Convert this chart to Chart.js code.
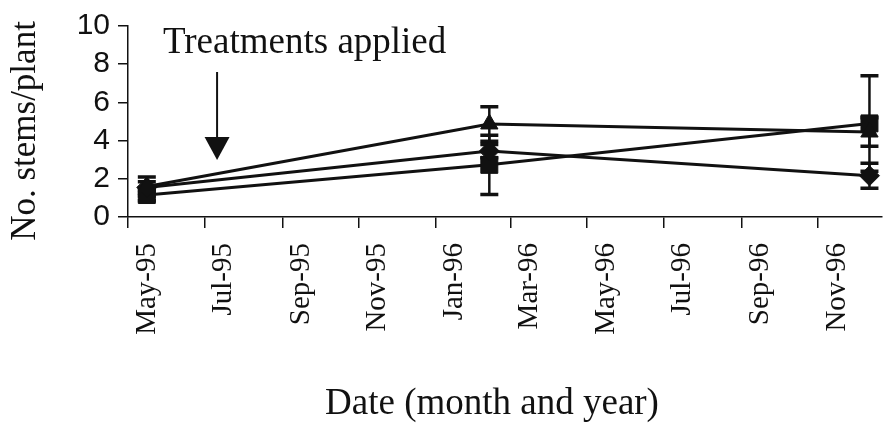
<!DOCTYPE html>
<html>
<head>
<meta charset="utf-8">
<script src="https://cdn.jsdelivr.net/npm/chart.js@4/dist/chart.umd.min.js"></script>
<style>
  html, body { margin: 0; padding: 0; background: #fff; }
  #wrap { width: 895px; height: 426px; position: relative; }
</style>
</head>
<body>
<div id="wrap"><canvas id="stems_chart"></canvas></div>
<script>
// sampling dates and mean stems per plant (+/- error) for each treatment
var sampleDates = ['1995-05-16', '1996-02-13', '1996-12-12'];
var triangleMeans = [1.6, 4.87, 4.45];
var triangleErr = [0.5, 0.9, 0.75];
var diamondMeans = [1.55, 3.45, 2.16];
var diamondErr = [0.3, 0.35, 0.65];
var squareMeans = [1.15, 2.73, 4.9];
var squareErr = [0.3, 1.55, 2.5];

var tickDates = ['1995-05-01', '1995-07-01', '1995-09-01', '1995-11-01', '1996-01-01',
  '1996-03-01', '1996-05-01', '1996-07-01', '1996-09-01', '1996-11-01'];
var tickLabels = ['May-95', 'Jul-95', 'Sep-95', 'Nov-95', 'Jan-96',
  'Mar-96', 'May-96', 'Jul-96', 'Sep-96', 'Nov-96'];
var axisStart = '1995-05-01',
  axisEnd = '1996-12-22';
var treatmentDate = '1995-07-11';

const INK = '#111';
const SERIF = '"Liberation Serif", "Times New Roman", serif';

// days since the start of the x axis
function dayNum(s) {
  var p = s.split('-');
  return (Date.UTC(+p[0], p[1] - 1, +p[2]) - Date.UTC(1995, 4, 1)) / 86400000;
}

function toPoints(means) {
  return means.map((m, i) => ({ x: dayNum(sampleDates[i]), y: m }));
}

var errorLists = [triangleErr, diamondErr, squareErr];

// vertical error bars with caps
const errorBars = {
  id: 'errorBars',
  beforeDatasetsDraw(chart) {
    const c = chart.ctx, ys = chart.scales.y;
    c.save();
    c.strokeStyle = INK;
    chart.data.datasets.forEach((ds, i) => {
      const meta = chart.getDatasetMeta(i);
      ds.data.forEach((d, j) => {
        const e = errorLists[i][j];
        const x = meta.data[j].x;
        const top = ys.getPixelForValue(d.y + e);
        const bot = ys.getPixelForValue(d.y - e);
        c.lineWidth = 2.5;
        c.beginPath();
        c.moveTo(x, top); c.lineTo(x, bot);
        c.stroke();
        c.lineWidth = 3.5;
        c.beginPath();
        c.moveTo(x - 9, top); c.lineTo(x + 9, top);
        c.moveTo(x - 9, bot); c.lineTo(x + 9, bot);
        c.stroke();
      });
    });
    c.restore();
  }
};

// axis titles and the treatment arrow
const labels = {
  id: 'labels',
  afterDraw(chart) {
    const c = chart.ctx;
    c.save();
    c.fillStyle = INK;
    c.font = '35px ' + SERIF;
    c.textAlign = 'center';
    c.textBaseline = 'middle';
    c.translate(26, 131);
    c.rotate(-Math.PI / 2);
    c.fillText('No. stems/plant', 0, 0);
    c.restore();

    c.save();
    c.fillStyle = INK;
    c.font = '37px ' + SERIF;
    c.textAlign = 'center';
    c.textBaseline = 'middle';
    c.fillText('Date (month and year)', 492, 404);

    c.textAlign = 'left';
    c.textBaseline = 'alphabetic';
    c.fillText('Treatments applied', 163, 53);

    const ax = chart.scales.x.getPixelForValue(dayNum(treatmentDate));
    c.strokeStyle = INK;
    c.lineWidth = 2;
    c.beginPath();
    c.moveTo(ax, 72); c.lineTo(ax, 140);
    c.stroke();
    c.beginPath();
    c.moveTo(ax - 12.5, 137); c.lineTo(ax + 12.5, 137); c.lineTo(ax, 160);
    c.closePath();
    c.fill();
    c.restore();
  }
};

function series(means, style, radius) {
  return {
    data: toPoints(means),
    borderColor: INK,
    backgroundColor: INK,
    borderWidth: 3,
    pointStyle: style,
    pointRadius: radius,
    pointBorderWidth: 1,
    tension: 0
  };
}

const ctx = document.getElementById('stems_chart').getContext('2d');
new Chart(ctx, {
  type: 'line',
  data: {
    datasets: [
      series(triangleMeans, 'triangle', 10),
      series(diamondMeans, 'rectRot', 10),
      series(squareMeans, 'rect', 12)
    ]
  },
  options: {
    responsive: true,
    maintainAspectRatio: false,
    animation: false,
    layout: { padding: { top: 23, right: 2, left: 0, bottom: 0 } },
    plugins: { legend: { display: false }, tooltip: { enabled: false } },
    scales: {
      x: {
        type: 'linear',
        min: dayNum(axisStart),
        max: dayNum(axisEnd),
        afterFit: (s) => { s.height = 209; },
        afterBuildTicks: (s) => { s.ticks = tickDates.map(d => ({ value: dayNum(d) })); },
        border: { display: true, color: INK, width: 1.5 },
        grid: { drawOnChartArea: false, drawTicks: true, tickLength: 11, color: INK, lineWidth: 1.5 },
        ticks: {
          autoSkip: false,
          minRotation: 90,
          maxRotation: 90,
          labelOffset: 19,
          padding: 15,
          color: INK,
          font: { family: SERIF, size: 29 },
          callback: (v, i) => tickLabels[i]
        }
      },
      y: {
        min: 0,
        max: 10,
        afterFit: (s) => { s.width = 128; },
        border: { display: true, color: INK, width: 1.5 },
        grid: { drawOnChartArea: false, drawTicks: true, tickLength: 10, color: INK, lineWidth: 1.5 },
        ticks: {
          autoSkip: false,
          stepSize: 2,
          padding: 8,
          color: INK,
          font: { family: '"Liberation Sans", Arial, sans-serif', size: 30 }
        }
      }
    }
  },
  plugins: [errorBars, labels]
});
</script>
</body>
</html>
